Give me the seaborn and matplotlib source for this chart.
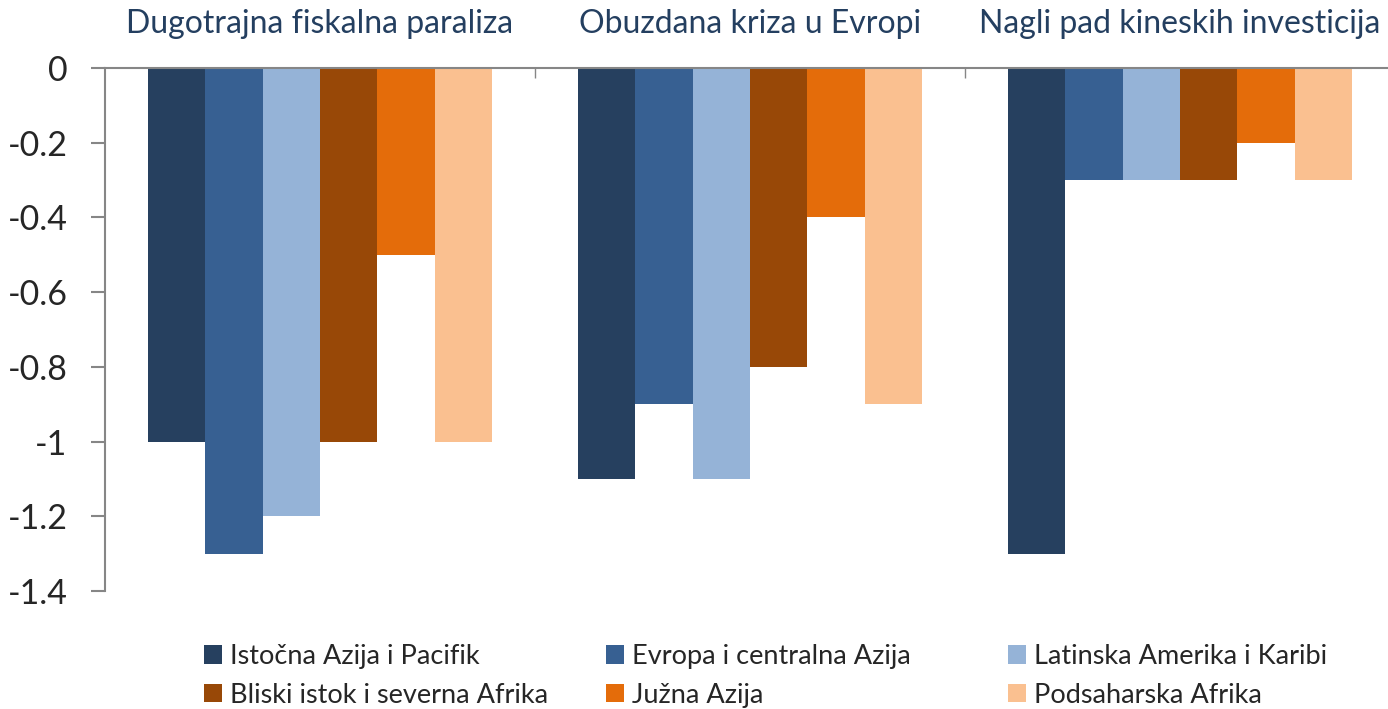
import pandas as pd
import numpy as np
import matplotlib.pyplot as plt
import seaborn as sns
from matplotlib.patches import Patch
from matplotlib.ticker import FixedLocator

# Data
scenarios = ['Dugotrajna fiskalna paraliza', 'Obuzdana kriza u Evropi', 'Nagli pad kineskih investicija']
regions = ['Istočna Azija i Pacifik', 'Evropa i centralna Azija', 'Latinska Amerika i Karibi',
           'Bliski istok i severna Afrika', 'Južna Azija', 'Podsaharska Afrika']
istocna_azija = [-1.0, -1.1, -1.3]
evropa_centralna = [-1.3, -0.9, -0.3]
latinska_amerika = [-1.2, -1.1, -0.3]
bliski_istok = [-1.0, -0.8, -0.3]
juzna_azija = [-0.5, -0.4, -0.2]
podsaharska = [-1.0, -0.9, -0.3]
y_ticks = [0, -0.2, -0.4, -0.6, -0.8, -1, -1.2, -1.4]

colors = ['#26405F', '#376092', '#95B3D7', '#984807', '#E46C0A', '#FAC090']

series = [istocna_azija, evropa_centralna, latinska_amerika, bliski_istok, juzna_azija, podsaharska]
rows = []
for region, vals in zip(regions, series):
    for scen, v in zip(scenarios, vals):
        rows.append({'scenario': scen, 'region': region, 'value': v})
df = pd.DataFrame(rows)

sns.set_style('white')
plt.rcParams['font.family'] = ['Lato', 'DejaVu Sans']

fig = plt.figure(figsize=(13.88, 7.09), dpi=100)
ax = fig.add_axes([105 / 1388, 118 / 709, 1290 / 1388, 523 / 709])

sns.barplot(data=df, x='scenario', y='value', hue='region', order=scenarios,
            hue_order=regions, palette=colors, width=0.8, saturation=1,
            edgecolor='none', legend=False, ax=ax)

ax.set_xlim(-0.5, 2.5)
ax.set_ylim(-1.4, 0)
ax.set_xlabel('')
ax.set_ylabel('')

# group titles on top, boundary ticks as minor ticks
ax.xaxis.tick_top()
ax.xaxis.set_minor_locator(FixedLocator([0.5, 1.5]))
ax.tick_params(axis='x', which='major', length=0, pad=21, labelsize=23, labelcolor='#243F60')
ax.tick_params(axis='x', which='minor', top=True, length=7, width=1, color='#868686', direction='in')

ax.set_yticks(y_ticks)
ax.set_yticklabels(['{:g}'.format(t) for t in y_ticks])
ax.tick_params(axis='y', left=True, length=10, width=1.5, color='#868686', direction='out',
               labelsize=24.5, pad=17)

for side in ['bottom', 'right']:
    ax.spines[side].set_visible(False)
for side in ['top', 'left']:
    ax.spines[side].set_color('#868686')
    ax.spines[side].set_linewidth(1.5)

# legend: three columns with fixed spacing, filled row by row
col_x = [204, 606, 1008]
for i, x in enumerate(col_x):
    idx = [i, i + 3]
    handles = [Patch(facecolor=colors[j], edgecolor='none') for j in idx]
    labels = [regions[j] for j in idx]
    fig.legend(handles, labels, loc='upper left', bbox_to_anchor=(x / 1388, 65 / 709),
               frameon=False, fontsize=19.5, handlelength=0.65, handleheight=0.65,
               handletextpad=0.3, labelspacing=0.5, borderpad=0, borderaxespad=0)

fig.savefig('out.png', dpi=100)
